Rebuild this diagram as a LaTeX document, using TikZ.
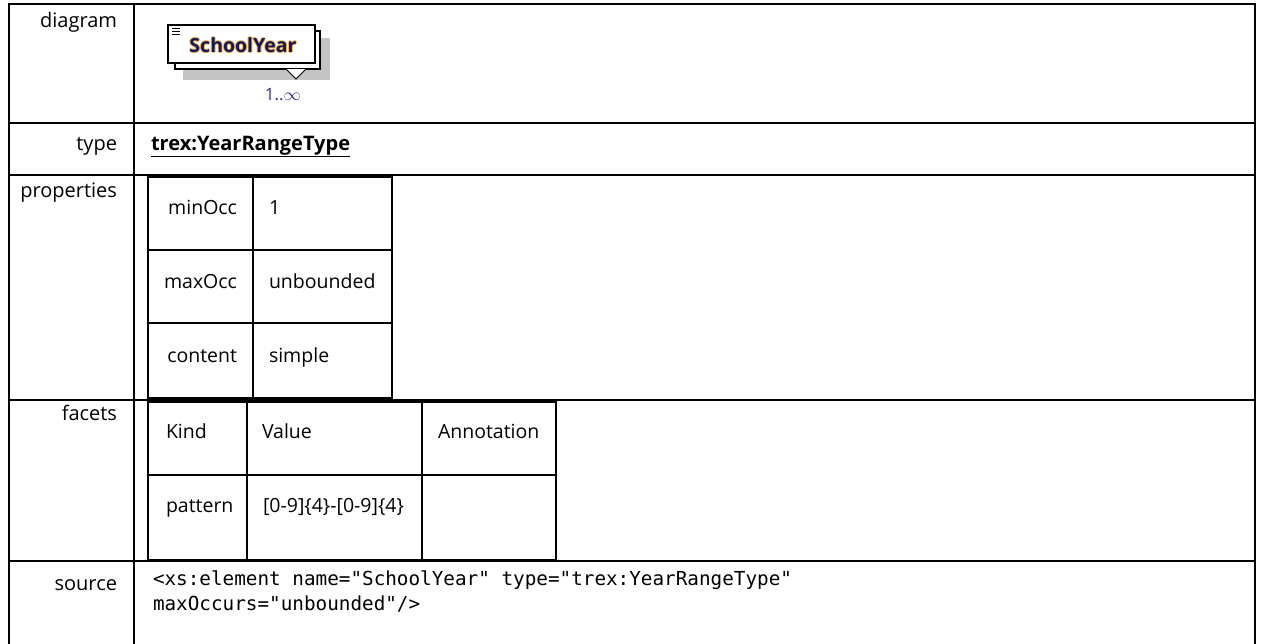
\documentclass[tikz,border=0pt]{standalone}
\usepackage{fontspec}
\setmainfont{Open Sans}
\setmonofont{DejaVu Sans Mono}
\definecolor{shadow}{HTML}{C4C4C4}
\definecolor{elname}{HTML}{161A50}
\definecolor{elglow}{HTML}{F3B560}
\definecolor{occ}{HTML}{3A2C7C}
\begin{document}
\begin{tikzpicture}[x=1pt,y=-1pt,line width=2pt,line cap=rect,
  lbl/.style={anchor=base east,inner sep=0pt,font=\fontsize{20}{24}\selectfont},
  txt/.style={anchor=base west,inner sep=0pt,font=\fontsize{19.5}{23}\selectfont},
  txtr/.style={anchor=base east,inner sep=0pt,font=\fontsize{19.5}{23}\selectfont},
  elbox/.style={draw,fill=white,line width=1.2pt}]
\useasboundingbox (0,0) rectangle (1261,643);
% outer table
\draw (9,4)--(1255,4);
\draw (9,4)--(9,643) (134,4)--(134,643) (1255,4)--(1255,643);
\foreach \y in {123,175,400,561}
    \draw (9,\y)--(1255,\y);
% row labels
\node[lbl] (diagram) at (118,27) {diagram};
\node[lbl] (type) at (118,150) {type};
\node[lbl] (properties) at (118,197) {properties};
\node[lbl] (facets) at (118,420) {facets};
\node[lbl] (source) at (118,590) {source};
% element picture
\fill[shadow] (183,38) rectangle (330,80);
\draw[elbox] (175,31) rectangle (320,69);
\draw[elbox] (168,25) rectangle (315,63);
\draw[fill=white,line width=1pt,line cap=butt] (286,69)--(296,79)--(306,69);
\foreach \y in {28.5,31.5,34.5}
    \draw[line width=1pt,line cap=butt] (172,\y)--(180,\y);
\foreach \dx/\dy [count=\i] in {-1/0,1/0,0/-1,0/1}
    \node[anchor=base,inner sep=0pt,text=elglow,font=\fontsize{19.5}{23}\selectfont\bfseries] (glow\i) at (243+\dx,52+\dy) {SchoolYear};
\node[anchor=base,inner sep=0pt,text=elname,font=\fontsize{19.5}{23}\selectfont\bfseries] (schoolyear) at (243,52) {SchoolYear};
\node[anchor=base,inner sep=0pt,text=occ,font=\fontsize{17}{20}\selectfont] (occurs) at (283,100) {1..$\infty$};
% type
\node[txt,font=\fontsize{20}{24}\selectfont\bfseries] (typename) at (150,150) {\underline{trex:YearRangeType}};
% properties
\draw[line width=2.5pt] (148,176.5) rectangle (392,398);
\draw (253,176)--(253,398) (148,250)--(392,250) (148,323)--(392,323);
\node[txtr] (minocc) at (238,214) {minOcc};
\node[txt] (minval) at (268,214) {1};
\node[txtr] (maxocc) at (238,288) {maxOcc};
\node[txt] (maxval) at (268,288) {unbounded};
\node[txtr] (content) at (238,362) {content};
\node[txt] (contval) at (268,362) {simple};
% facets
\draw[line width=2.5pt] (148,401.5) rectangle (556,560);
\draw (247,401)--(247,560) (422,401)--(422,560) (148,475)--(556,475);
\node[txt] (kind) at (165,438) {Kind};
\node[txt] (value) at (261,438) {Value};
\node[txt] (annot) at (437,438) {Annotation};
\node[txt] (pattern) at (165,512) {pattern};
\node[txt] (regex) at (262,512) {[0-9]\{4\}-[0-9]\{4\}};
% source
\node[anchor=base west,inner sep=0pt,align=left,font=\ttfamily\fontsize{19.3}{25}\selectfont] (code) at (152,610)
    {<xs:element name="SchoolYear" type="trex:YearRangeType"\\maxOccurs="unbounded"/>};
\end{tikzpicture}
\end{document}
